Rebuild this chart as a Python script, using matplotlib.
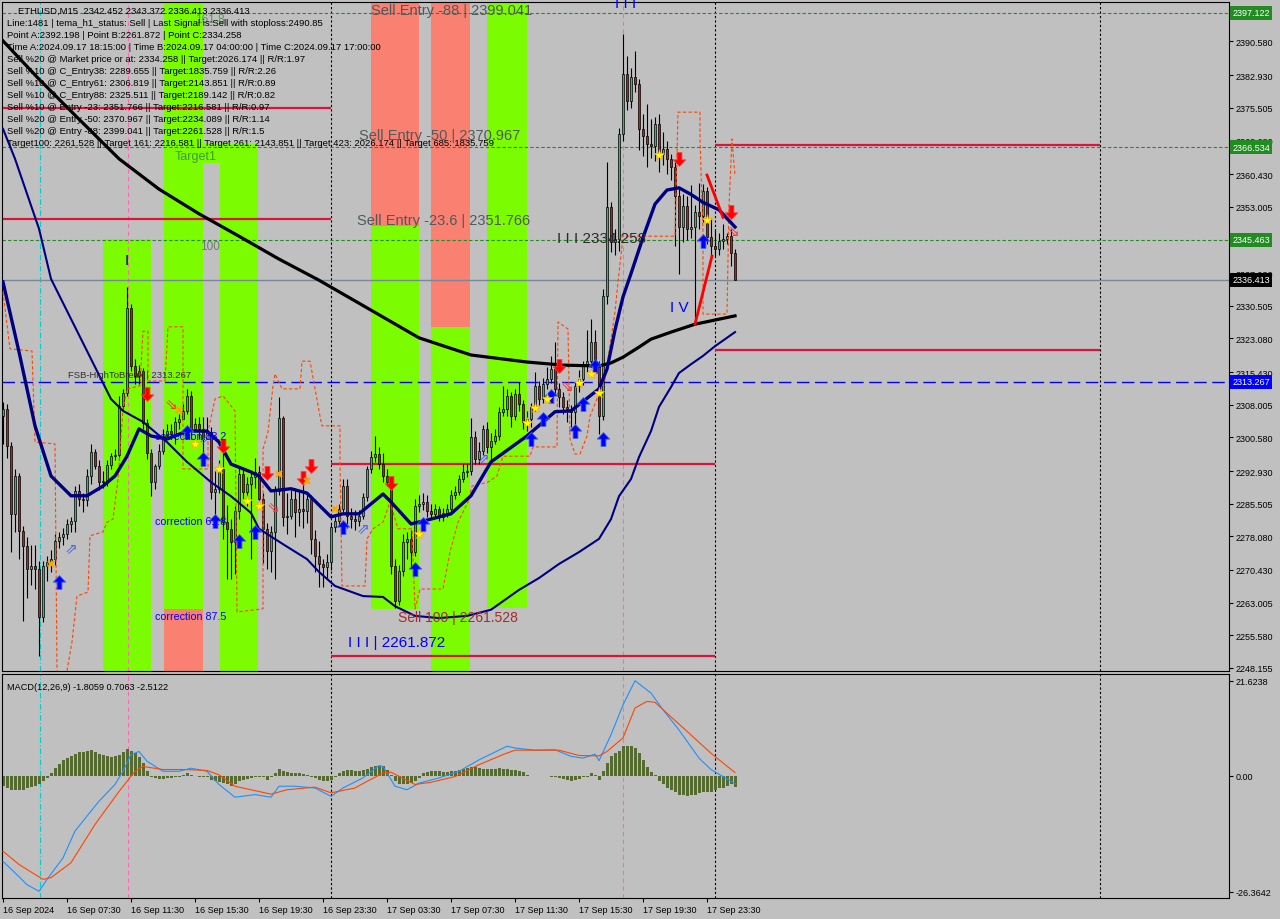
import numpy as np
import matplotlib
matplotlib.use("Agg")
import matplotlib.pyplot as plt
import matplotlib.transforms as mtransforms
from matplotlib.path import Path

plt.rcParams['font.family'] = ['Liberation Sans', 'DejaVu Sans']

# ETHUSD M15 candles, bar 0 = 16 Sep 03:30
first_open = 2305.5
closes = [2307.0, 2298.6, 2283.2, 2291.8, 2279.3, 2275.9, 2270.7, 2271.3, 2270.7, 2259.8,
          2271.3, 2272.3, 2272.9, 2277.0, 2277.9, 2278.6, 2280.9, 2281.6, 2288.4, 2286.6,
          2286.3, 2291.8, 2297.3, 2294.1, 2290.4, 2290.7, 2294.3, 2296.3, 2296.6, 2307.7,
          2310.7, 2330.0, 2316.8, 2314.5, 2315.7, 2303.8, 2297.0, 2290.4, 2294.1, 2297.5,
          2300.9, 2302.0, 2301.3, 2304.1, 2304.8, 2306.6, 2310.0, 2302.5, 2303.6, 2302.5,
          2300.2, 2301.8, 2288.2, 2288.9, 2293.4, 2281.3, 2279.8, 2276.8, 2283.8, 2292.3,
          2288.2, 2290.0, 2291.6, 2292.7, 2286.6, 2279.8, 2274.8, 2279.1, 2288.4, 2305.0,
          2282.5, 2282.7, 2286.6, 2283.6, 2284.3, 2283.8, 2286.6, 2277.5, 2273.6, 2271.8,
          2271.1, 2272.3, 2280.2, 2281.6, 2284.3, 2289.5, 2282.7, 2282.0, 2281.6, 2282.7,
          2287.0, 2293.4, 2296.1, 2296.8, 2294.5, 2291.8, 2290.4, 2271.3, 2263.4, 2270.2,
          2276.8, 2277.5, 2274.5, 2285.0, 2285.4, 2285.9, 2283.8, 2283.2, 2284.3, 2282.5,
          2283.4, 2284.3, 2287.5, 2288.2, 2291.1, 2292.7, 2292.9, 2300.7, 2295.7, 2297.5,
          2302.5, 2298.4, 2299.8, 2300.9, 2306.3, 2307.0, 2310.0, 2305.4, 2310.4, 2308.2,
          2304.1, 2304.8, 2307.5, 2312.3, 2309.3, 2312.7, 2313.9, 2316.1, 2311.6, 2309.8,
          2307.5, 2307.0, 2306.3, 2312.3, 2313.9, 2316.8, 2317.9, 2322.3, 2316.8, 2305.4,
          2332.7, 2352.9, 2345.0, 2345.7, 2369.5, 2383.2, 2377.0, 2382.5, 2380.9, 2370.7,
          2369.1, 2367.3, 2366.8, 2371.8, 2365.0, 2366.1, 2363.9, 2362.0, 2355.4, 2348.4,
          2353.2, 2347.9, 2348.4, 2351.8, 2350.9, 2356.6, 2346.1, 2344.1, 2343.4, 2345.2,
          2345.7, 2346.4, 2342.452, 2336.413]
highs = [2308.6, 2308.2, 2299.5, 2293.4, 2292.5, 2280.5, 2278.0, 2276.0, 2276.0, 2272.5,
         2272.5, 2273.5, 2275.0, 2278.5, 2279.0, 2280.0, 2282.0, 2282.5, 2289.5, 2290.0,
         2288.0, 2293.5, 2299.0, 2298.0, 2295.5, 2293.0, 2295.5, 2297.0, 2298.0, 2310.0,
         2311.5, 2334.8, 2331.0, 2318.5, 2317.0, 2316.4, 2304.8, 2297.9, 2294.5, 2299.0,
         2302.5, 2303.6, 2303.6, 2305.2, 2306.0, 2308.2, 2311.6, 2311.2, 2305.0, 2305.2,
         2305.2, 2305.2, 2303.0, 2293.0, 2295.5, 2299.0, 2285.2, 2282.0, 2285.0, 2293.9,
         2293.4, 2291.5, 2293.0, 2296.0, 2294.0, 2288.0, 2281.0, 2280.5, 2289.5, 2309.7,
         2305.5, 2288.0, 2288.5, 2289.0, 2288.5, 2290.5, 2288.0, 2287.5, 2279.5, 2277.0,
         2273.0, 2274.0, 2281.0, 2283.0, 2285.5, 2291.0, 2291.0, 2284.5, 2284.0, 2284.0,
         2288.0, 2294.0, 2297.5, 2300.9, 2298.5, 2297.0, 2293.5, 2291.0, 2273.0, 2271.5,
         2278.5, 2279.0, 2279.5, 2286.5, 2287.5, 2288.0, 2287.5, 2285.5, 2285.5, 2285.0,
         2284.5, 2285.5, 2288.5, 2289.5, 2292.0, 2294.5, 2294.5, 2305.0, 2302.0, 2299.5,
         2303.5, 2304.0, 2301.5, 2302.5, 2307.5, 2312.3, 2311.5, 2311.0, 2311.5, 2313.2,
         2309.0, 2306.5, 2308.5, 2315.5, 2313.5, 2314.0, 2316.5, 2319.1, 2322.3, 2313.0,
         2311.0, 2309.0, 2308.0, 2313.5, 2316.0, 2318.0, 2325.0, 2327.5, 2325.0, 2318.0,
         2334.258, 2363.2, 2354.0, 2348.0, 2371.0, 2392.198, 2387.3, 2384.5, 2388.4, 2382.0,
         2374.0, 2376.3, 2373.0, 2373.5, 2374.0, 2370.0, 2368.0, 2365.0, 2363.5, 2357.0,
         2356.0, 2355.5, 2358.0, 2353.5, 2358.5, 2358.2, 2357.5, 2350.5, 2348.0, 2347.0,
         2349.0, 2347.0, 2348.0, 2343.372]
lows = [2299.0, 2296.0, 2274.5, 2279.0, 2273.0, 2258.8, 2264.0, 2267.0, 2266.0, 2250.9,
        2258.5, 2268.0, 2270.0, 2271.5, 2275.5, 2276.0, 2277.5, 2279.0, 2279.0, 2285.0,
        2283.5, 2285.0, 2290.0, 2293.5, 2288.5, 2289.0, 2289.5, 2293.5, 2295.5, 2295.5,
        2306.9, 2310.0, 2315.6, 2312.7, 2312.7, 2302.5, 2295.7, 2287.2, 2288.9, 2293.4,
        2296.8, 2300.2, 2300.2, 2299.0, 2302.5, 2304.7, 2306.0, 2300.2, 2302.0, 2300.2,
        2295.7, 2300.2, 2286.6, 2282.0, 2288.0, 2277.5, 2268.4, 2268.4, 2269.5, 2282.0,
        2286.6, 2285.0, 2273.0, 2289.0, 2285.0, 2272.0, 2270.7, 2270.0, 2268.4, 2287.5,
        2280.5, 2278.5, 2282.0, 2278.0, 2280.5, 2280.0, 2281.0, 2274.0, 2270.0, 2266.6,
        2266.6, 2268.5, 2270.5, 2279.0, 2280.5, 2283.5, 2280.0, 2280.0, 2279.5, 2280.5,
        2282.0, 2286.0, 2292.5, 2295.0, 2293.5, 2290.5, 2289.5, 2269.5, 2261.872, 2262.5,
        2269.0, 2273.0, 2271.0, 2273.5, 2283.5, 2284.0, 2282.5, 2282.0, 2282.5, 2281.5,
        2281.5, 2282.5, 2283.5, 2286.5, 2287.5, 2290.5, 2291.5, 2292.0, 2294.5, 2294.5,
        2296.5, 2297.0, 2295.0, 2299.0, 2300.0, 2305.5, 2305.5, 2303.0, 2304.5, 2306.5,
        2302.5, 2302.0, 2303.0, 2306.5, 2308.0, 2308.5, 2311.5, 2313.0, 2310.5, 2307.5,
        2306.0, 2304.0, 2303.0, 2301.5, 2311.0, 2312.5, 2315.5, 2316.5, 2315.5, 2301.3,
        2304.5, 2331.0, 2342.7, 2342.0, 2343.0, 2368.0, 2375.0, 2375.5, 2379.0, 2366.0,
        2364.5, 2362.0, 2364.0, 2363.5, 2361.0, 2362.5, 2360.5, 2359.0, 2344.0, 2337.7,
        2345.0, 2345.5, 2346.0, 2326.3, 2348.0, 2349.5, 2344.5, 2341.0, 2341.5, 2342.0,
        2343.5, 2344.5, 2339.5, 2336.413]

# moving averages (bar index, price)
ma_black_i = [0, 9, 19, 29, 39, 49, 59, 69, 79, 92, 104, 117, 131, 140, 149, 152, 155, 159,
              162, 167, 173, 183]
ma_black_p = [2390.7, 2382.0, 2372.9, 2363.9, 2357.0, 2351.4, 2346.3, 2341.1, 2336.3, 2329.5,
              2323.2, 2319.3, 2317.7, 2317.0, 2316.8, 2317.5, 2318.8, 2321.1, 2322.9, 2324.5,
              2326.3, 2328.2]
ma_fast_i = [0, 4, 8, 12, 17, 21, 25, 28, 31, 34, 37, 41, 46, 51, 54, 57, 62, 64, 67, 72, 76,
             82, 85, 89, 95, 97, 102, 107, 112, 117, 122, 131, 138, 142, 149, 151, 153, 155,
             157, 160, 163, 166, 169, 172, 175, 179, 183]
ma_fast_p = [2335.9, 2320.0, 2303.2, 2291.8, 2287.3, 2287.3, 2289.5, 2291.8, 2296.3, 2302.5,
             2300.9, 2300.2, 2302.0, 2302.0, 2299.5, 2294.5, 2292.7, 2291.8, 2288.4, 2288.9,
             2287.9, 2282.5, 2283.2, 2283.2, 2287.7, 2285.9, 2280.9, 2282.0, 2283.2, 2287.3,
             2295.0, 2300.9, 2306.4, 2306.6, 2311.6, 2316.1, 2325.0, 2332.5, 2337.8, 2346.0,
             2353.6, 2356.8, 2357.3, 2355.8, 2354.0, 2352.3, 2348.4]
ma_slow_i = [0, 3, 9, 12, 17, 22, 27, 30, 35, 41, 46, 52, 57, 62, 64, 70, 76, 79, 83, 90, 95,
             98, 103, 109, 116, 122, 129, 134, 139, 144, 149, 152, 154, 157, 159, 162, 164, 167,
             169, 172, 175, 178, 183]
ma_slow_p = [2370.7, 2363.9, 2348.0, 2336.6, 2327.5, 2318.4, 2309.3, 2306.6, 2304.1, 2299.5,
             2295.0, 2290.4, 2287.2, 2283.4, 2279.8, 2276.3, 2272.9, 2270.0, 2266.8, 2264.5,
             2264.3, 2262.2, 2260.0, 2259.5, 2260.0, 2261.4, 2265.9, 2268.6, 2271.8, 2274.5,
             2277.5, 2282.0, 2287.2, 2291.1, 2296.1, 2302.0, 2307.5, 2312.0, 2315.2, 2317.2,
             2319.1, 2321.3, 2324.5]

# orange dashed step channel
step_i = [0, 1.75, 7.25, 8, 13, 13.5, np.nan, 16, 17.25, 18.5, 21.25, 21.75, 25, 26, 27.5, 28.75,
          30, 31, 34.25, 35, 36.25, 36.25, 40.5, 41.25, 45, 45, 51.25, 51.25, 53, 55, 58, 58.5,
          65, 65, 66.25, 67.5, 68, 69.75, 74.25, 74.75, 76.75, 79.25, 79.75, 84.25, 84.25, 84.75,
          90.5, 91, 92.5, 95, 96.75, 98.75, 102.25, 103, 104.25, 110, 111.75, 113.75, 116.25,
          117.25, 121.25, 123.5, 125, 131.75, 132.5, 138.5, 138.75, 141.25, 141.75, 143, 144.25,
          146, 146.75, 150.5, 151, 153, 153.75, 154.75, 154.75, 168, 168.75, 174.25, 174.25, 175,
          175, 181, 181.5, 182.25, 183]
step_p = [2333.6, 2320.7, 2320.2, 2299.5, 2299.1, 2247.5, np.nan, 2247.5, 2254.1, 2264.5, 2265.4,
          2278.2, 2279.1, 2281.3, 2282.0, 2291.1, 2307.0, 2311.6, 2312.3, 2324.7, 2324.7, 2313.4,
          2313.4, 2325.7, 2325.7, 2293.4, 2293.4, 2301.8, 2309.3, 2310.0, 2306.6, 2260.9, 2261.6,
          2297.9, 2301.8, 2312.3, 2315.0, 2311.6, 2311.6, 2317.9, 2317.9, 2305.4, 2303.2, 2303.2,
          2295.0, 2266.8, 2266.8, 2277.5, 2279.8, 2281.3, 2285.9, 2279.8, 2279.8, 2261.6, 2266.1,
          2266.1, 2274.5, 2281.3, 2285.9, 2289.5, 2290.4, 2291.8, 2296.3, 2296.3, 2298.4, 2298.4,
          2326.8, 2325.2, 2300.2, 2296.8, 2296.8, 2300.9, 2305.4, 2313.8, 2316.8, 2329.1, 2335.9,
          2344.1, 2346.3, 2346.3, 2374.5, 2374.5, 2368.4, 2347.2, 2328.6, 2328.6, 2353.2, 2368.4,
          2360.0]

zigzag_i = [173, 177.25, np.nan, 176, 180]
zigzag_p = [2326.3, 2341.8, np.nan, 2360.2, 2350.6]

# fib zones
zone_x0 = [25.0, 40.25, 40.25, 50.0, 54.25, 92.0, 92.0, 107.0, 107.0, 121.0]
zone_x1 = [37.0, 50.0, 50.0, 54.25, 63.75, 104.0, 104.0, 116.75, 116.75, 131.0]
zone_lo = [2240.0, 2261.6, 2240.0, 2363.0, 2240.0, 2348.6, 2261.6, 2325.7, 2240.0, 2261.8]
zone_hi = [2345.7, 2405.0, 2261.6, 2367.3, 2367.3, 2405.0, 2348.6, 2405.0, 2325.7, 2405.0]
zone_kind = ['buy', 'buy', 'sell', 'buy', 'buy', 'sell', 'buy', 'sell', 'buy', 'buy']

# red entry segments
seg_x0 = [-0.25, -0.25, 82, 82, 178, 178]
seg_x1 = [82, 82, 178, 178, 274.25, 274.25]
seg_p = [2375.4, 2350.3, 2294.5, 2250.9, 2367.0, 2320.4]

green_levels = [2397.122, 2366.534, 2345.463]
bid_level = 2336.413
fsb_level = 2313.267

day_sep = [82, 178, 274.25]
pink_marks = [31.25, 155]
cyan_marks = [9.25]

# signal markers
up_i = [14, 46, 50, 53, 59, 63, 85, 103, 105, 132, 135, 137, 143, 145, 148, 150, 175]
up_p = [2267.7, 2301.8, 2295.7, 2281.6, 2277.0, 2279.1, 2280.2, 2270.7, 2280.9, 2300.2,
        2304.8, 2310.0, 2302.0, 2308.2, 2316.8, 2300.2, 2345.2]
dn_i = [36, 55, 66, 75, 77, 97, 139, 169, 182]
dn_p = [2310.4, 2298.6, 2292.5, 2291.3, 2294.1, 2290.2, 2316.8, 2363.9, 2351.8]
star_i = [48, 54, 61, 64, 104, 131, 133, 136, 144, 147, 149, 164, 176]
star_p = [2299.1, 2293.4, 2286.2, 2285.0, 2278.6, 2303.8, 2307.2, 2309.3, 2312.9, 2315.0,
          2310.7, 2364.8, 2350.0]
cross_i = [12, 44, 69, 76, 83]
cross_p = [2271.8, 2306.8, 2292.3, 2290.7, 2284.3]
hollow_up_i = [17, 50.5, 90, 120]
hollow_up_p = [2275.2, 2300.2, 2279.8, 2295.7]
hollow_dn_i = [42, 67.5, 141, 182.5]
hollow_dn_p = [2308.2, 2284.8, 2312.2, 2347.5]

price_ticks = [2390.580, 2382.930, 2375.505, 2368.080, 2360.430, 2353.005, 2337.930, 2330.505,
               2323.080, 2315.430, 2308.005, 2300.580, 2292.930, 2285.505, 2278.080, 2270.430,
               2263.005, 2255.580, 2248.155]
time_ticks = [0, 16, 32, 48, 64, 80, 96, 112, 128, 144, 160, 176]
time_labels = ['16 Sep 2024', '16 Sep 07:30', '16 Sep 11:30', '16 Sep 15:30', '16 Sep 19:30',
               '16 Sep 23:30', '17 Sep 03:30', '17 Sep 07:30', '17 Sep 11:30', '17 Sep 15:30',
               '17 Sep 19:30', '17 Sep 23:30']

# MACD(12,26,9)
osma = [-2.4, -2.8, -3.2, -3.2, -3.2, -3.2, -2.9, -2.6, -2.4, -2.0,
        -1.3, -0.5, 0.6, 1.7, 2.6, 3.6, 4.0, 4.4, 4.9, 5.3,
        5.5, 5.7, 5.8, 5.5, 5.0, 4.6, 4.4, 4.2, 4.4, 4.8,
        5.4, 6.1, 5.7, 5.1, 4.2, 2.9, 1.0, -0.2, -0.5, -0.7,
        -0.7, -0.5, -0.5, -0.4, -0.2, 0.2, 0.6, 0.2, -0.1, -0.2,
        -0.3, -0.2, -0.9, -1.3, -1.4, -1.7, -2.0, -2.4, -1.9, -1.3,
        -0.9, -0.7, -0.5, -0.4, -0.2, -0.4, -0.9, -0.4, 0.6, 1.5,
        1.0, 0.8, 0.6, 0.6, 0.6, 0.4, 0.1, -0.2, -0.5, -0.9,
        -1.1, -1.3, -0.9, -0.4, 0.6, 1.1, 1.2, 1.2, 1.1, 1.1,
        1.4, 1.6, 1.9, 2.2, 2.3, 2.1, 1.4, 0.1, -1.3, -1.9,
        -2.0, -1.9, -1.6, -1.1, -0.5, 0.6, 0.8, 1.0, 1.0, 1.0,
        0.8, 0.8, 1.0, 1.1, 1.4, 1.6, 1.7, 2.0, 1.9, 1.7,
        1.6, 1.5, 1.5, 1.6, 1.7, 1.6, 1.6, 1.4, 1.3, 1.1,
        0.8, 0.1, 0.0, -0.1, 0.0, -0.1, 0.0, -0.2, -0.4, -0.5,
        -0.7, -0.9, -1.1, -0.9, -0.7, -0.4, -0.2, 0.6, 0.2, -0.9,
        1.0, 2.9, 4.4, 5.1, 5.7, 6.7, 6.7, 6.7, 6.3, 5.1,
        3.6, 1.9, 0.8, 0.2, -1.3, -2.0, -2.8, -3.3, -3.7, -4.3,
        -4.5, -4.6, -4.5, -4.3, -3.9, -3.7, -3.7, -3.6, -3.2, -2.9,
        -2.8, -2.4, -2.0, -2.5122]
macd_i = [0, 3, 6, 9, 11, 15, 18, 24, 28, 30, 32, 34, 36, 40, 44, 47, 51, 54, 58, 63, 67, 69,
          73, 78, 82, 85, 90, 94, 95, 98, 101, 104, 109, 114, 119, 126, 128, 133, 138, 142, 145,
          148, 149, 152, 155, 158, 162, 165, 169, 174, 177, 183]
macd_v = [-19.5, -22.1, -24.8, -26.3, -23.6, -18.7, -12.6, -5.8, -2.0, 1.0, 4.8, 5.5, 3.3, 1.0,
          1.0, 1.7, 1.0, -2.0, -4.9, -4.3, -4.9, -2.4, -2.4, -2.8, -4.7, -2.8, -0.5, 2.3, 2.1,
          -2.4, -3.2, -1.7, -0.5, 1.0, 3.6, 6.7, 6.3, 5.8, 5.9, 4.4, 4.0, 4.9, 3.4, 9.3, 16.1,
          21.6, 18.8, 15.0, 10.4, 4.0, 1.4, -1.8059]
signal_i = [0, 4, 10, 12, 17, 23, 29, 33, 35, 40, 45, 51, 54, 58, 63, 67, 71, 78, 82, 88, 91,
            95, 97, 103, 107, 113, 119, 125, 128, 139, 144, 149, 151, 155, 158, 161, 163, 166,
            171, 177, 183]
signal_v = [-17.2, -20.2, -23.6, -23.2, -19.8, -11.1, -3.6, 1.0, 2.1, 1.4, 1.4, 1.2, 0.2, -2.4,
            -3.4, -4.2, -3.2, -2.6, -3.9, -2.8, -1.3, 0.6, 0.8, -2.0, -1.5, -0.2, 2.5, 4.8, 5.8,
            5.8, 4.6, 4.5, 5.5, 8.6, 15.4, 16.9, 16.7, 14.2, 10.1, 5.1, 0.7063]

info_lines = [
    "ETHUSD,M15  2342.452 2343.372 2336.413 2336.413",
    "Line:1481 | tema_h1_status: Sell | Last Signal is:Sell with stoploss:2490.85",
    "Point A:2392.198 | Point B:2261.872 | Point C:2334.258",
    "Time A:2024.09.17 18:15:00 | Time B:2024.09.17 04:00:00 | Time C:2024.09.17 17:00:00",
    "Sell %20 @ Market price or at: 2334.258 || Target:2026.174 || R/R:1.97",
    "Sell %10 @ C_Entry38: 2289.655 || Target:1835.759 || R/R:2.26",
    "Sell %10 @ C_Entry61: 2306.819 || Target:2143.851 || R/R:0.89",
    "Sell %10 @ C_Entry88: 2325.511 || Target:2189.142 || R/R:0.82",
    "Sell %10 @ Entry -23: 2351.766 || Target:2216.581 || R/R:0.97",
    "Sell %20 @ Entry -50: 2370.967 || Target:2234.089 || R/R:1.14",
    "Sell %20 @ Entry -88: 2399.041 || Target:2261.528 || R/R:1.5",
    "Target100: 2261.528 || Target 161: 2216.581 || Target 261: 2143.851 || Target 423: 2026.174 || Target 685: 1835.759",
]

# ---------------------------------------------------------------
bg = '#C0C0C0'
zone_colors = {'buy': '#7CFC00', 'sell': '#FA8072'}
W, H = 1280, 920

fig = plt.figure(figsize=(12.8, 9.2), dpi=100, facecolor=bg)
ax = fig.add_axes([2 / W, 248 / H, 1227 / W, 669 / H], facecolor=bg)
axm = fig.add_axes([2 / W, 21 / H, 1227 / W, 224.5 / H], facecolor=bg)

ax.set_xlim(-0.25, 306.5)
ax.set_ylim(2247.47, 2399.54)
axm.set_xlim(-0.25, 306.5)
axm.set_ylim(-27.83, 23.25)

# zones
for x0, x1, lo, hi, k in zip(zone_x0, zone_x1, zone_lo, zone_hi, zone_kind):
    ax.bar(x0, hi - lo, width=x1 - x0, bottom=lo, align='edge', color=zone_colors[k],
           linewidth=0, zorder=0.5)

# vertical markers
for a in (ax, axm):
    for v in day_sep:
        a.axvline(v, color='black', lw=0.8, ls=(0, (2, 2)), zorder=1)
    for v in pink_marks:
        a.axvline(v, color='#FF69B4', lw=0.8, ls=(0, (4, 3)), zorder=1)
    for v in cyan_marks:
        a.axvline(v, color='#00CED1', lw=0.8, ls=(0, (5, 2, 1, 2)), zorder=1)

# horizontal levels
for lv in green_levels:
    ax.axhline(lv, color='#228B22', lw=0.8, ls=(0, (3, 2)), zorder=1.2)
ax.axhline(bid_level, color='#778899', lw=1.0, zorder=1.2)
ax.axhline(fsb_level, color='#0000FF', lw=1.0, ls=(0, (9, 4)), zorder=1.2)
ax.hlines(seg_p, seg_x0, seg_x1, color='#DC143C', lw=1.6, zorder=1.3)

# candles
c = np.array(closes)
o = np.array([first_open] + closes[:-1])
xb = np.arange(len(c))
body_col = np.where(c >= o, '#3CB371', '#B22222')
ax.vlines(xb, lows, highs, color='black', lw=0.8, zorder=3)
ax.bar(xb, np.maximum(np.abs(c - o), 0.15), bottom=np.minimum(o, c), width=0.7,
       color=body_col, edgecolor='black', linewidth=0.5, zorder=3.1)

# indicator lines
ax.plot(step_i, step_p, color='#FF4500', lw=0.8, ls=(0, (3, 2)), zorder=3.5)
ax.plot(ma_black_i, ma_black_p, color='black', lw=2.3, zorder=4)
ax.plot(ma_slow_i, ma_slow_p, color='#000080', lw=1.5, zorder=4)
ax.plot(ma_fast_i, ma_fast_p, color='#000080', lw=2.4, zorder=4.1)
ax.plot(zigzag_i, zigzag_p, color='#FF0000', lw=2.0, zorder=4.2)

# signal markers
arrow_up = Path([(0, 1), (-0.9, 0.05), (-0.35, 0.05), (-0.35, -1), (0.35, -1),
                 (0.35, 0.05), (0.9, 0.05), (0, 1)], closed=True)
arrow_dn = Path([(0, -1), (-0.9, -0.05), (-0.35, -0.05), (-0.35, 1), (0.35, 1),
                 (0.35, -0.05), (0.9, -0.05), (0, -1)], closed=True)
ax.plot(up_i, up_p, ls='none', marker=arrow_up, ms=10, mfc='#0000FF', mec='#4169E1',
        mew=0.6, zorder=5)
ax.plot(dn_i, dn_p, ls='none', marker=arrow_dn, ms=10, mfc='#FF0000', mec='#FF4040',
        mew=0.6, zorder=5)
ax.plot(star_i, star_p, ls='none', marker='*', ms=8, mfc='#FFFF00', mec='#FFA500',
        mew=0.5, zorder=5)
ax.plot(cross_i, cross_p, ls='none', marker='x', ms=5, color='#FFA500', mew=1.6, zorder=5)
for xi, p in zip(hollow_up_i, hollow_up_p):
    ax.text(xi, p, '\u21d7', color='#4169E1', fontsize=11, ha='center', va='center', zorder=5)
for xi, p in zip(hollow_dn_i, hollow_dn_p):
    ax.text(xi, p, '\u21d8', color='#FF3030', fontsize=11, ha='center', va='center', zorder=5)

# chart labels
lab_gray = '#4f5a5a'
ax.text(92, 2397.7, 'Sell Entry -88 | 2399.041', color=lab_gray, fontsize=10.5, va='center', zorder=6)
ax.text(89, 2369.3, 'Sell Entry -50 | 2370.967', color=lab_gray, fontsize=10.5, va='center', zorder=6)
ax.text(88.5, 2350.0, 'Sell Entry -23.6 | 2351.766', color=lab_gray, fontsize=10.5, va='center', zorder=6)
ax.text(48, 2395.7, '161.8', color='#5f8f5f', fontsize=8.5, va='center', zorder=6)
ax.text(43, 2364.6, 'Target1', color='#3a9a3a', fontsize=9, va='center', zorder=6)
ax.text(49.25, 2344.1, '100', color='#6a7f6a', fontsize=8.5, va='center', zorder=6)
ax.text(16.25, 2314.9, 'FSB-HighToBreak | 2313.267', color='#303030', fontsize=6.8, va='center', zorder=6)
ax.text(38, 2300.9, 'correction 38.2', color='#0000FF', fontsize=7.7, va='center', zorder=6)
ax.text(38, 2281.6, 'correction 61.8', color='#0000FF', fontsize=7.7, va='center', zorder=6)
ax.text(38, 2260.0, 'correction 87.5', color='#0000FF', fontsize=7.7, va='center', zorder=6)
ax.text(98.75, 2259.8, 'Sell 100 | 2261.528', color='#A52A2A', fontsize=10, va='center', zorder=6)
ax.text(86.25, 2254.1, 'I I I | 2261.872', color='#0000FF', fontsize=11, va='center', zorder=6)
ax.text(138.5, 2345.9, 'I I I 2334.258', color='#2a2a2a', fontsize=11, va='center', zorder=6)
ax.text(166.75, 2330.2, 'I V', color='#0000FF', fontsize=11, va='center', zorder=6)
ax.text(153, 2399.2, 'I I I', color='#0000FF', fontsize=11, va='center', zorder=6)
ax.text(30.5, 2340.9, 'I', color='#000080', fontsize=11, va='center', zorder=6)

# price axis
ax.yaxis.tick_right()
ax.set_yticks(price_ticks)
ax.set_yticklabels(['%.3f' % v for v in price_ticks])
ax.tick_params(axis='y', length=3, width=0.8, pad=2, labelsize=6.5, direction='out')
ax.tick_params(axis='x', bottom=False, labelbottom=False)
trans = mtransforms.blended_transform_factory(ax.transAxes, ax.transData)
tag_style = [(green_levels[0], '#228B22'), (green_levels[1], '#228B22'),
             (green_levels[2], '#228B22'), (bid_level, '#000000'), (fsb_level, '#0000FF')]
for lv, col in tag_style:
    ax.text(1.0025, lv, '%.3f' % lv, transform=trans, fontsize=6.5, color='white',
            ha='left', va='center', zorder=7, clip_on=False,
            bbox=dict(boxstyle='square,pad=0.28', fc=col, ec='none'))

# MACD panel
axm.bar(xb, osma, width=0.75, color='#556B2F', zorder=2)
axm.plot(macd_i, macd_v, color='#1E90FF', lw=0.8, zorder=3)
axm.plot(signal_i, signal_v, color='#FF4500', lw=0.8, zorder=3)
axm.yaxis.tick_right()
axm.set_yticks([21.6238, 0.0, -26.3642])
axm.set_yticklabels(['21.6238', '0.00', '-26.3642'])
axm.tick_params(axis='y', length=3, width=0.8, pad=2, labelsize=6.5, direction='out')
axm.set_xticks(time_ticks)
axm.set_xticklabels(time_labels, ha='left')
axm.tick_params(axis='x', length=3, width=0.8, pad=2, labelsize=6.5, direction='out')
axm.text(0.004, 0.96, 'MACD(12,26,9) -1.8059 0.7063 -2.5122', transform=axm.transAxes,
         fontsize=6.6, va='top', ha='left', color='black')

for a in (ax, axm):
    for s in a.spines.values():
        s.set_color('black')
        s.set_linewidth(0.8)

# info block
line_y = [11, 24, 36, 48, 60, 72, 84, 96, 108, 120, 132, 143]
for k, (txt, yy) in enumerate(zip(info_lines, line_y)):
    xx = 18 if k == 0 else 7
    fig.text(xx / W, 1 - yy / H, txt, fontsize=6.8, color='black', va='center', ha='left',
             zorder=8)

fig.savefig('out.png', dpi=100, facecolor=bg)
